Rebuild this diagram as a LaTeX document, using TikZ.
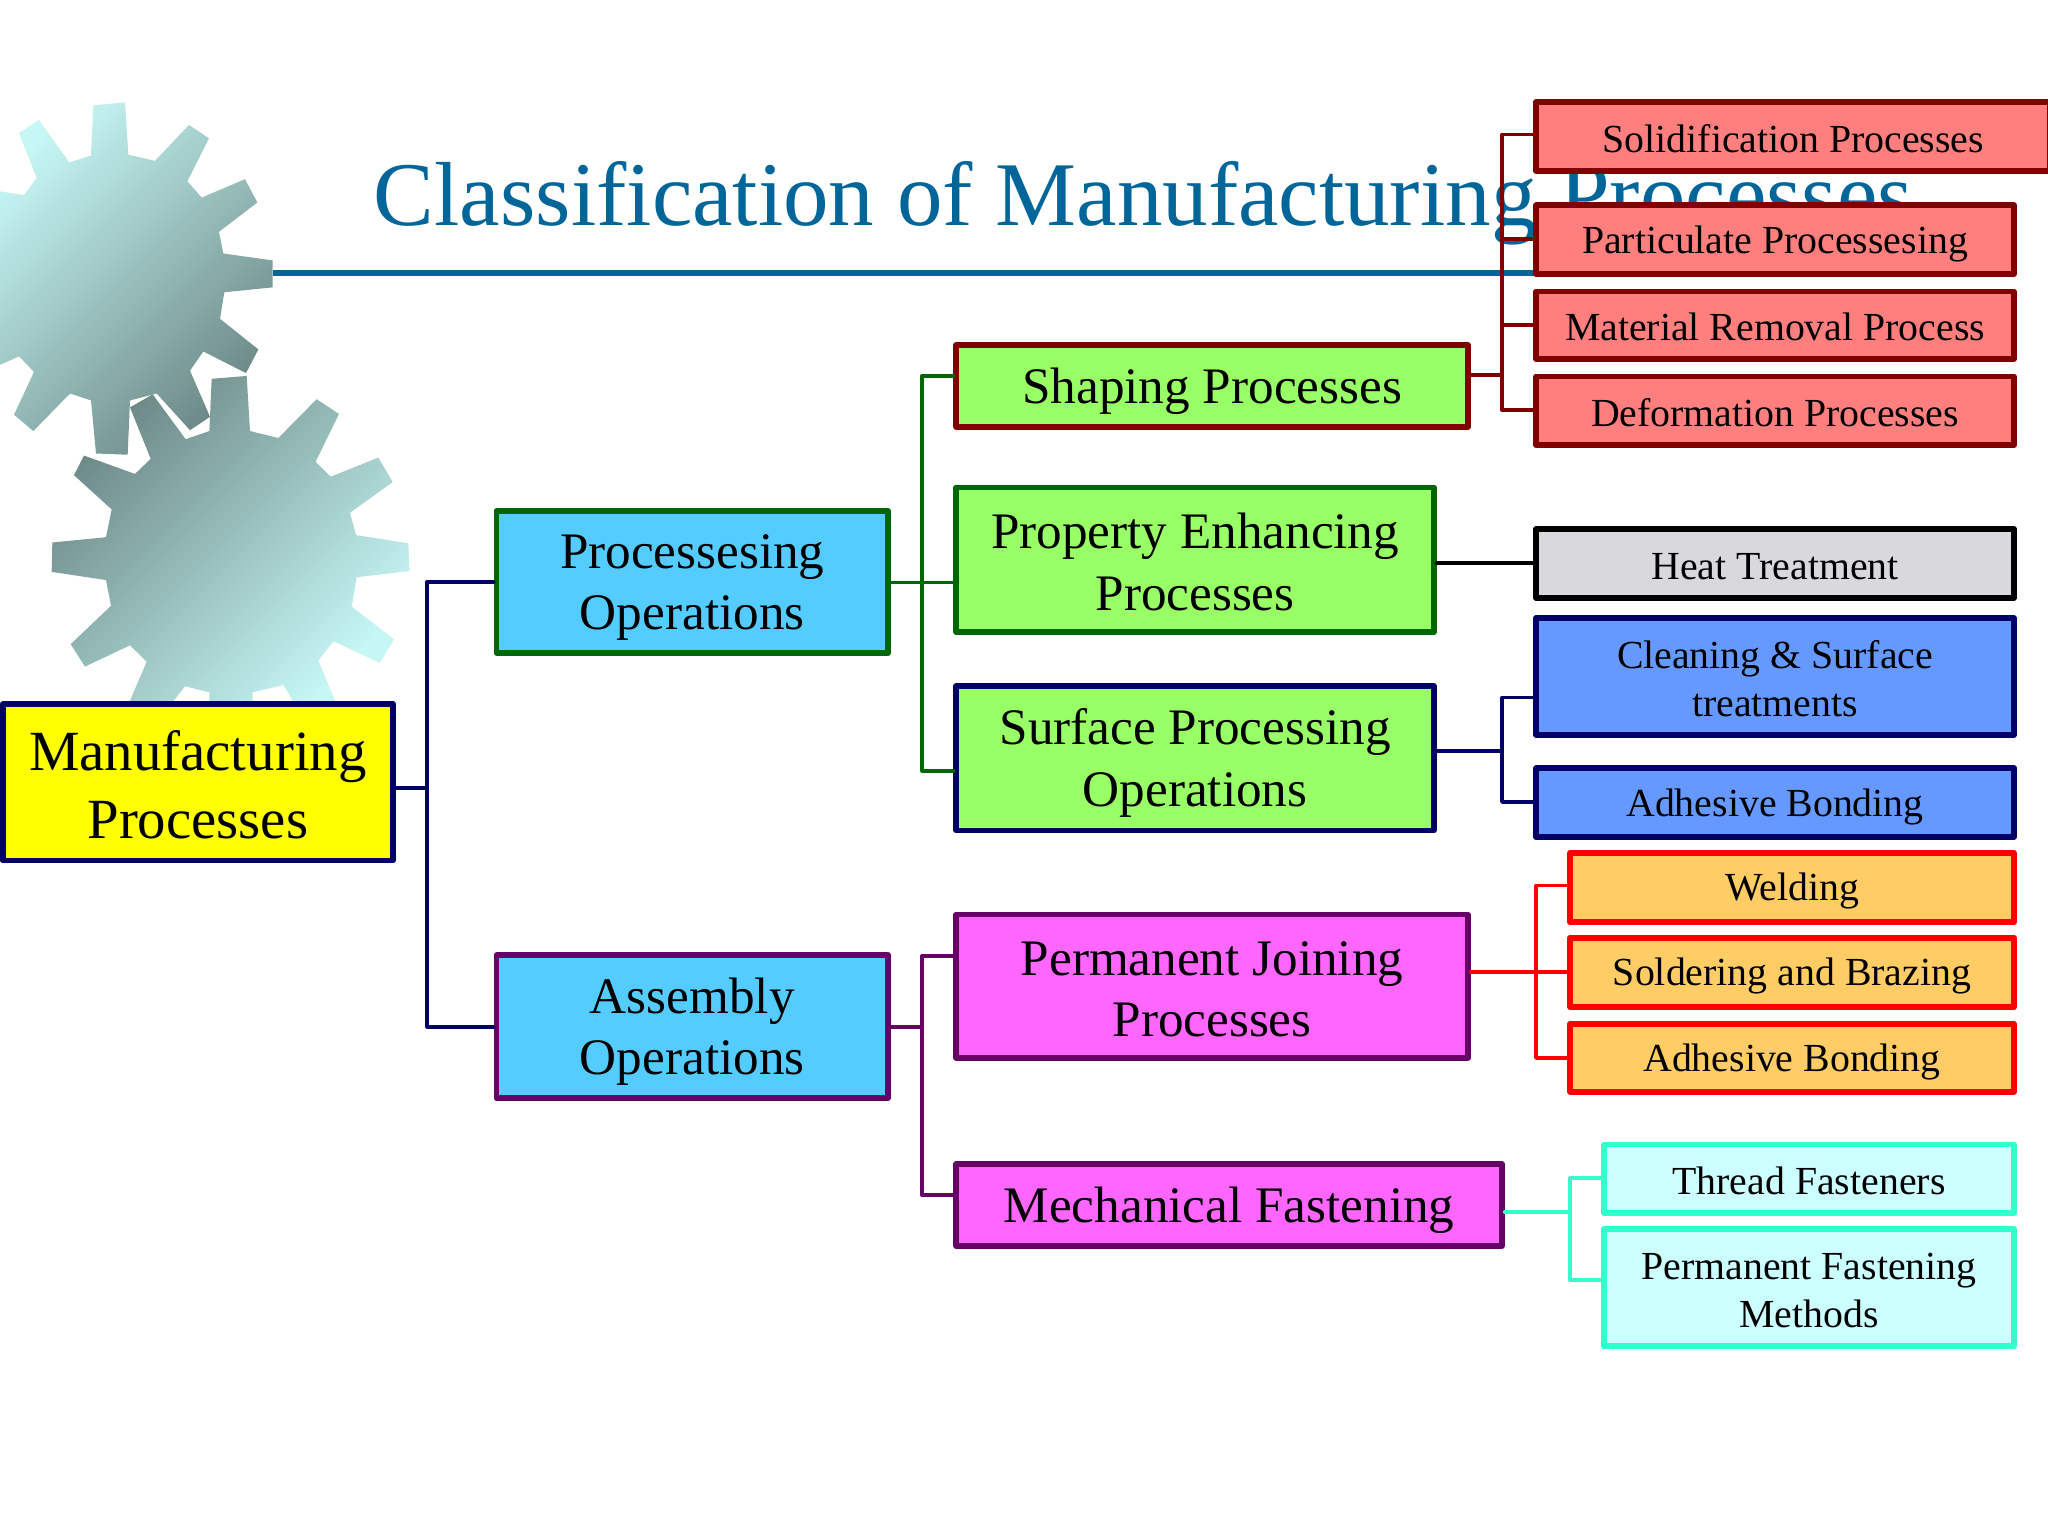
\documentclass[tikz,border=0pt]{standalone}
\usepackage{fontspec}
\setmainfont{Liberation Serif}
\definecolor{navyc}{HTML}{000066}
\definecolor{greenc}{HTML}{006600}
\definecolor{purplec}{HTML}{660066}
\definecolor{redc}{HTML}{800000}
\definecolor{aquac}{HTML}{33FFCC}
\definecolor{titlec}{HTML}{006699}
\definecolor{gearlight}{HTML}{C6F7F5}
\definecolor{geardark}{HTML}{6C8886}
\definecolor{pureyellow}{HTML}{FFFF00}
\definecolor{purered}{HTML}{FF0000}
\newcommand{\st}{\rule[-0.11em]{0pt}{1em}}
\tikzset{
  boxbase/.style={draw,line width=2.9pt,line join=round,inner sep=0pt,align=center,text=black},
  fontL/.style={font=\fontsize{28.4}{34}\selectfont},
  fontM/.style={font=\fontsize{25.6}{30.7}\selectfont},
  fontS/.style={font=\fontsize{19.9}{24}\selectfont},
  yellowbox/.style={boxbase,fontL,fill=pureyellow,draw=navyc},
  bluebox/.style={boxbase,fontM,fill={rgb,255:red,85;green,204;blue,255}},
  greenbox/.style={boxbase,fontM,fill={rgb,255:red,153;green,255;blue,102}},
  pinkbox/.style={boxbase,fontM,fill={rgb,255:red,255;green,102;blue,255},draw=purplec},
  redbox/.style={boxbase,fontS,fill={rgb,255:red,255;green,127;blue,127},draw=redc},
  greybox/.style={boxbase,fontS,fill={rgb,255:red,217;green,216;blue,220},draw=black},
  periwinkle/.style={boxbase,fontS,fill={rgb,255:red,102;green,153;blue,255},draw=navyc},
  orangebox/.style={boxbase,fontS,fill={rgb,255:red,255;green,204;blue,102},draw=purered},
  cyanbox/.style={boxbase,fontS,fill={rgb,255:red,204;green,255;blue,255},draw=aquac},
  link/.style={line width=1.9pt,line join=round,line cap=round},
}
% name, x0, y0, x1, y1 (outer edges), style, text
\newcommand{\bx}[7]{\node[#6,minimum width={(#4-#2-4.4)*0.65306pt},minimum height={(#5-#3-4.4)*0.65306pt}] (#1) at ({(#2+#4)/2},{(#3+#5)/2}) {#7};}
\begin{document}
\begin{tikzpicture}[x=0.65306pt,y=-0.65306pt]
\useasboundingbox (0,0) rectangle (1568,1176);
\fill[white] (0,0) rectangle (1568,1176);

% title and rule
\node[anchor=base west,inner sep=0pt,text=titlec,font=\fontsize{45.5}{54}\selectfont] (title) at (286,173) {Classification of Manufacturing Processes};
\coordinate (ruleL) at (209,209);
\coordinate (ruleR) at (1176,209);
\draw[titlec,line width=2.8pt] (ruleL) -- (ruleR);

% gears
\begin{scope}[yshift=-40pt,x=0.16667pt,y=-0.2041pt]
\shade[top color=gearlight,bottom color=geardark,shading angle=45]
 (280,62)--(375,55)--(385,183)--(465,198)--(567,110)--(627,143)--(562,248)--(605,288)--(735,243)--(772,300)--(657,372)--(670,425)--(818,442)--(818,508)--(673,520)--(660,585)--(775,660)--(738,718)--(610,665)--(570,712)--(630,825)--(570,858)--(470,768)--(390,785)--(383,918)--(288,915)--(273,785)--(210,768)--(100,860)--(42,820)--(102,715)--(57,677)--(-60,720)--(-60,265)--(72,282)--(110,240)--(57,130)--(117,98)--(208,202)--(273,185)--cycle;
\shade[top color=geardark,bottom color=gearlight,shading angle=45]
 (635,732)--(740,725)--(750,860)--(835,877)--(950,782)--(1017,818)--(947,935)--(992,972)--(1135,925)--(1178,985)--(1050,1060)--(1068,1115)--(1225,1135)--(1228,1203)--(1070,1218)--(1055,1290)--(1182,1370)--(1140,1428)--(1000,1375)--(955,1422)--(1010,1530)--(885,1530)--(850,1482)--(758,1500)--(758,1530)--(628,1530)--(628,1500)--(555,1485)--(512,1530)--(385,1530)--(440,1425)--(390,1385)--(255,1437)--(212,1382)--(333,1288)--(318,1225)--(155,1205)--(157,1133)--(318,1120)--(335,1052)--(222,968)--(252,920)--(405,965)--(452,928)--(390,802)--(458,770)--(557,880)--(628,860)--cycle;
\end{scope}

% junction coordinates
\coordinate (busA) at (327,603);
\coordinate (busB) at (706,446);
\coordinate (busBa) at (706,288);
\coordinate (busBb) at (706,590);
\coordinate (busC) at (706,786);
\coordinate (busCa) at (706,732);
\coordinate (busCb) at (706,915);
\coordinate (busD) at (1150,287);
\coordinate (busDa) at (1150,103);
\coordinate (busDb) at (1150,183);
\coordinate (busDc) at (1150,249);
\coordinate (busDd) at (1150,314);
\coordinate (busE) at (1150,575);
\coordinate (busEa) at (1150,534);
\coordinate (busEb) at (1150,614);
\coordinate (busF) at (1176,744);
\coordinate (busFa) at (1176,678);
\coordinate (busFc) at (1176,810);
\coordinate (busG) at (1202,928);
\coordinate (busGa) at (1202,902);
\coordinate (busGb) at (1202,980);
\coordinate (heatY) at (1125,431);

% boxes
\bx{mfg}{0}{537}{303}{661}{yellowbox}{\st Manufacturing\\\st Processes}
\bx{po}{378}{389}{682}{502}{bluebox,draw=greenc}{\st Processesing\\\st Operations}
\bx{ao}{378}{729}{682}{843}{bluebox,draw=purplec}{\st Assembly\\\st Operations}
\bx{sp}{730}{262}{1126}{329}{greenbox,draw=redc}{\st Shaping Processes}
\bx{pe}{730}{371}{1100}{486}{greenbox,draw=greenc}{\st Property Enhancing\\\st Processes}
\bx{sf}{730}{523}{1100}{638}{greenbox,draw=navyc}{\st Surface Processing\\\st Operations}
\bx{pj}{730}{698}{1126}{812}{pinkbox}{\st Permanent Joining\\\st Processes}
\bx{mf}{730}{889}{1152}{956}{pinkbox}{\st Mechanical Fastening}
\bx{so}{1174}{76}{1572}{133}{redbox}{\st Solidification Processes}
\bx{pa}{1174}{155}{1544}{212}{redbox}{\st Particulate Processesing}
\bx{mr}{1174}{221}{1544}{277}{redbox}{\st Material Removal Process}
\bx{de}{1174}{286}{1544}{343}{redbox}{\st Deformation Processes}
\bx{ht}{1174}{403}{1544}{460}{greybox}{\st Heat Treatment}
\bx{cl}{1174}{471}{1544}{565}{periwinkle}{\st Cleaning \& Surface\\\st treatments}
\bx{ab}{1174}{586}{1544}{643}{periwinkle}{\st Adhesive Bonding}
\bx{we}{1200}{651}{1544}{708}{orangebox}{\st Welding}
\bx{sb}{1200}{716}{1544}{773}{orangebox}{\st Soldering and Brazing}
\bx{ac}{1200}{782}{1544}{838}{orangebox}{\st Adhesive Bonding}
\bx{tf}{1226}{874}{1544}{931}{cyanbox}{\st Thread Fasteners}
\bx{fm}{1226}{939}{1544}{1033}{cyanbox}{\st Permanent Fastening\\\st Methods}

% connectors
\draw[link,navyc] (busA -| mfg.east) -- (busA);
\draw[link,navyc] (po.west) -| (busA) |- (ao.west);

\draw[link,greenc] (busB -| po.east) -- (busB -| pe.west);
\draw[link,greenc] (busBa -| sp.west) -- (busBa) -- (busBb) -- (busBb -| sf.west);

\draw[link,purplec] (busC -| ao.east) -- (busC);
\draw[link,purplec] (busCa -| pj.west) -- (busCa) -- (busCb) -- (busCb -| mf.west);

\draw[link,redc] (busD -| sp.east) -- (busD);
\draw[link,redc] (busDa -| so.west) -- (busDa) -- (busDd) -- (busDd -| de.west);
\draw[link,redc] (busDb) -- (busDb -| pa.west);
\draw[link,redc] (busDc) -- (busDc -| mr.west);

\draw[link,black] (heatY -| pe.east) -- (heatY -| ht.west);

\draw[link,navyc] (busE -| sf.east) -- (busE);
\draw[link,navyc] (busEa -| cl.west) -- (busEa) -- (busEb) -- (busEb -| ab.west);

\draw[link,purered] (busF -| pj.east) -- (busF -| sb.west);
\draw[link,purered] (busFa -| we.west) -- (busFa) -- (busFc) -- (busFc -| ac.west);

\draw[link,aquac] (busG -| mf.east) -- (busG);
\draw[link,aquac] (busGa -| tf.west) -- (busGa) -- (busGb) -- (busGb -| fm.west);
\end{tikzpicture}
\end{document}
